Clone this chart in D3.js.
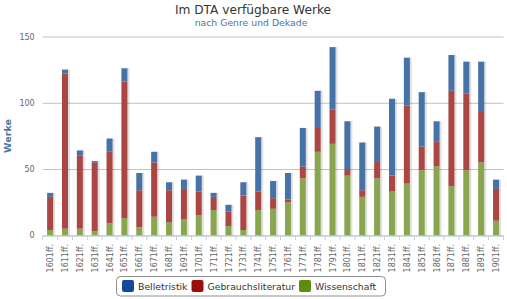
<html>
<meta charset="utf-8" />
<head>
<title>Im DTA verfügbare Werke</title>
<script src="https://cdn.jsdelivr.net/npm/d3@7/dist/d3.min.js"></script>
<style>
	body { margin: 0; background: #fff; }
	text { font-family: "DejaVu Sans", sans-serif; }
</style>
<script>
// Dekaden (x-Achse)
const decades = ['1601ff.', '1611ff.', '1621ff.', '1631ff.', '1641ff.', '1651ff.', '1661ff.', '1671ff.',
	'1681ff.', '1691ff.', '1701ff.', '1711ff.', '1721ff.', '1731ff.', '1741ff.', '1751ff.', '1761ff.',
	'1771ff.', '1781ff.', '1791ff.', '1801ff.', '1811ff.', '1821ff.', '1831ff.', '1841ff.', '1851ff.',
	'1861ff.', '1871ff.', '1881ff.', '1891ff.', '1901ff.'];

// Werke je Genre und Dekade
const wissenschaft = [4, 5, 5, 3, 9, 13, 6, 14, 10, 12, 15, 19, 7, 4, 19, 20, 25, 43, 63, 69,
	45, 29, 43, 33, 39, 49, 52, 37, 49, 55, 11];
const gebrauchsliteratur = [25, 117, 55, 52, 54, 103, 28, 41, 24, 23, 18, 10, 11, 26, 14, 8, 2, 9, 18, 26,
	5, 5, 13, 12, 59, 18, 19, 72, 58, 38, 24];
const belletristik = [3, 3, 4, 1, 10, 10, 13, 8, 6, 7, 12, 3, 5, 10, 41, 13, 20, 29, 28, 47,
	36, 36, 26, 58, 36, 41, 15, 27, 24, 38, 7];

const yTicks = [0, 50, 100, 150];

window.onload = function() {
	const svg = d3.select('svg');

	let xScale = d3.scaleBand().domain(decades).range([42.7, 503.5]);
	let yScale = d3.scaleLinear().domain([0, 150]).range([235.3, 36.5]);

	// Titel
	svg.append('text').attr('x', 253).attr('y', 14).attr('text-anchor', 'middle')
		.style('font-size', '12.2px').style('fill', '#333').text('Im DTA verfügbare Werke');
	svg.append('text').attr('x', 251).attr('y', 25.5).attr('text-anchor', 'middle')
		.style('font-size', '9.3px').style('fill', '#4d759e').text('nach Genre und Dekade');

	// Gitterlinien + y-Beschriftung
	let yAxis = d3.axisLeft(yScale).tickValues(yTicks).tickSize(-460.8).tickPadding(8);
	let yG = svg.append('g').attr('transform', 'translate(42.7,0)').call(yAxis);
	yG.select('.domain').remove();
	yG.selectAll('.tick line').attr('stroke', '#c0c0c0');
	yG.selectAll('.tick text').style('font-size', '8px').style('fill', '#666')
		.style('font-family', '"DejaVu Sans", sans-serif');

	svg.append('text')
		.attr('transform', 'translate(11,136) rotate(-90)')
		.attr('text-anchor', 'middle')
		.style('font-size', '9.5px').style('font-weight', 'bold').style('fill', '#4d759e')
		.text('Werke');

	// Stapel
	let rows = decades.map((d, i) => ({
		decade: d, Wissenschaft: wissenschaft[i], Gebrauchsliteratur: gebrauchsliteratur[i], Belletristik: belletristik[i]
	}));
	let keys = ['Wissenschaft', 'Gebrauchsliteratur', 'Belletristik'];
	let colors = { Wissenschaft: '#89a54e', Gebrauchsliteratur: '#aa4643', Belletristik: '#4572a7' };
	let stack = d3.stack().keys(keys)(rows);

	let barW = 6;
	let bx = (d) => xScale(d) + xScale.bandwidth() / 2 - barW / 2;

	// Schatten
	svg.append('g').selectAll('rect').data(rows).enter().append('rect')
		.attr('x', (d) => bx(d.decade) + 1)
		.attr('y', (d) => yScale(d.Wissenschaft + d.Gebrauchsliteratur + d.Belletristik) + 1)
		.attr('width', barW)
		.attr('height', (d) => yScale(0) - yScale(d.Wissenschaft + d.Gebrauchsliteratur + d.Belletristik) - 1)
		.attr('fill', 'none').attr('stroke', 'rgba(0,0,0,0.12)').attr('stroke-width', 2);

	svg.append('g').selectAll('g').data(stack).enter().append('g')
		.attr('fill', (s) => colors[s.key])
		.selectAll('rect').data((s) => s).enter().append('rect')
		.attr('x', (d) => bx(d.data.decade))
		.attr('y', (d) => yScale(d[1]))
		.attr('width', barW)
		.attr('height', (d) => yScale(d[0]) - yScale(d[1]));

	// x-Achse
	let xAxis = d3.axisBottom(xScale).tickSize(0).tickFormat('');
	let xG = svg.append('g').attr('transform', 'translate(0,235.5)').call(xAxis);
	xG.select('.domain').attr('stroke', '#c0d0e0');
	svg.append('g').selectAll('line').data(decades.concat(['end'])).enter().append('line')
		.attr('x1', (d, i) => 42.7 + i * xScale.step()).attr('x2', (d, i) => 42.7 + i * xScale.step())
		.attr('y1', 235.5).attr('y2', 240).attr('stroke', '#c0d0e0');
	svg.append('g').selectAll('text').data(decades).enter().append('text')
		.attr('transform', (d) => 'translate(' + (xScale(d) + xScale.bandwidth() / 2 + 3) + ',244) rotate(-90)')
		.attr('text-anchor', 'end')
		.style('font-size', '8px').style('fill', '#666')
		.text((d) => d);

	// Legende
	let legend = svg.append('g');
	legend.append('rect').attr('x', 116.5).attr('y', 276.5).attr('width', 269).attr('height', 19.5)
		.attr('rx', 4).attr('fill', '#fff').attr('stroke', '#909090');
	let legendItems = [['Belletristik', '#12499a'], ['Gebrauchsliteratur', '#9a0d0d'], ['Wissenschaft', '#5e8c0f']];
	let lx = 122;
	legendItems.forEach((it) => {
		legend.append('rect').attr('x', lx).attr('y', 280).attr('width', 12).attr('height', 12)
			.attr('rx', 2).attr('fill', it[1]);
		let t = legend.append('text').attr('x', lx + 16).attr('y', 290)
			.style('font-size', '9.3px').style('fill', '#333').text(it[0]);
		lx += 16 + t.node().getComputedTextLength() + 4;
	});
};
</script>
</head>
<body>
<svg style="width:507px; height:299px; display:block"></svg>
</body>
</html>
